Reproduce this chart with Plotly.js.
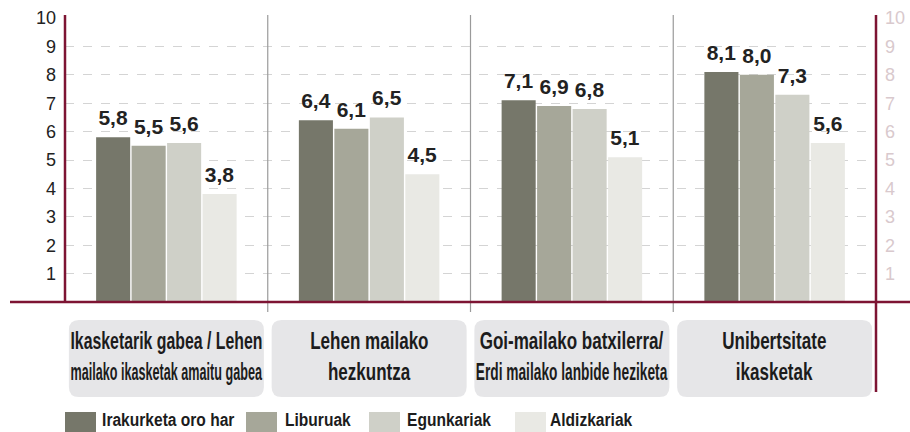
<!DOCTYPE html>
<html>
<head>
<meta charset="utf-8">
<script src="https://cdn.plot.ly/plotly-3.0.1.min.js"></script>
<style>html,body{margin:0;padding:0;background:#fff;}#chart{width:910px;height:432px;}</style>
</head>
<body>
<div id="chart"></div>
<script>
var categories = [
  "Ikasketarik gabea / Lehen<br>mailako ikasketak amaitu gabea",
  "Lehen mailako<br>hezkuntza",
  "Goi-mailako batxilerra/<br>Erdi mailako lanbide heziketa",
  "Unibertsitate<br>ikasketak"
];
var seriesNames = ["Irakurketa oro har", "Liburuak", "Egunkariak", "Aldizkariak"];
var irakurketa = [5.8, 6.4, 7.1, 8.1];
var liburuak = [5.5, 6.1, 6.9, 8.0];
var egunkariak = [5.6, 6.5, 6.8, 7.3];
var aldizkariak = [3.8, 4.5, 5.1, 5.6];
var tickValues = [1, 2, 3, 4, 5, 6, 7, 8, 9, 10];
var tickLabels = ["1", "2", "3", "4", "5", "6", "7", "8", "9", "10"];

var seriesValues = [irakurketa, liburuak, egunkariak, aldizkariak];
var colors = ["#76776a", "#a6a799", "#cfd0c8", "#e9e9e4"];
var FONT = "'Liberation Sans', Arial, sans-serif";
var AXIS = "#7d1433";

function fmt(v) { return v.toFixed(1).replace('.', ','); }

var traces = seriesValues.map(function (vals, i) {
  return {
    type: 'bar',
    name: seriesNames[i],
    x: categories,
    y: vals,
    marker: { color: colors[i] },
    text: vals.map(fmt),
    textposition: 'outside',
    cliponaxis: false,
    textfont: { family: FONT, size: 21, color: '#222', weight: 'bold' },
    hoverinfo: 'x+y',
    showlegend: false
  };
});
// invisible trace for the right axis
traces.push({ type: 'scatter', x: [categories[0]], y: [0], yaxis: 'y2', mode: 'markers', marker: { opacity: 0 }, showlegend: false, hoverinfo: 'skip' });

// plot area geometry (pixels) for converting shape/annotation positions
var L = 65, R = 876, T = 18, B = 302, W = 910, H = 432;
var pw = R - L, ph = B - T;
function px(x) { return (x - L) / pw; }
function py(y) { return (B - y) / ph; }

var shapes = [];
var annotations = [];
var squeeze = []; // per-annotation horizontal compression info

// category label boxes (rounded)
categories.forEach(function (c, i) {
  var hw = 97.5, hh = 38.5, r = 10;
  var path = 'M ' + (-hw + r) + ' ' + (-hh) +
    ' L ' + (hw - r) + ' ' + (-hh) + ' Q ' + hw + ' ' + (-hh) + ' ' + hw + ' ' + (-hh + r) +
    ' L ' + hw + ' ' + (hh - r) + ' Q ' + hw + ' ' + hh + ' ' + (hw - r) + ' ' + hh +
    ' L ' + (-hw + r) + ' ' + hh + ' Q ' + (-hw) + ' ' + hh + ' ' + (-hw) + ' ' + (hh - r) +
    ' L ' + (-hw) + ' ' + (-hh + r) + ' Q ' + (-hw) + ' ' + (-hh) + ' ' + (-hw + r) + ' ' + (-hh) + ' Z';
  shapes.push({
    type: 'path', xref: 'x', yref: 'paper', xsizemode: 'pixel', ysizemode: 'pixel',
    xanchor: i, yanchor: py(358.5), path: path,
    fillcolor: '#e6e6e8', line: { width: 0 }, layer: 'below'
  });
  var lines = c.split('<br>');
  var lineY = [340, 372];
  lines.forEach(function (ln, k) {
    squeeze[annotations.length] = { max: 0.71, target: 192, anchor: 'center' };
    annotations.push({
      xref: 'x', yref: 'paper', x: i, y: py(lineY[k]), xanchor: 'center', yanchor: 'middle', text: ln, showarrow: false,
      font: { family: FONT, size: 24, color: '#1c1c1c', weight: 'bold' }, align: 'center'
    });
  });
});

// category separators
[0.5, 1.5, 2.5].forEach(function (xv) {
  shapes.push({ type: 'line', xref: 'x', yref: 'paper', x0: xv, x1: xv, y0: py(15), y1: py(312),
    line: { color: '#9a9a9a', width: 1.2 } });
});

// axis lines
shapes.push({ type: 'line', xref: 'paper', yref: 'paper', x0: px(65), x1: px(65), y0: py(15), y1: py(302),
  line: { color: AXIS, width: 2.5 } });
shapes.push({ type: 'line', xref: 'paper', yref: 'paper', x0: px(876), x1: px(876), y0: py(15), y1: py(392),
  line: { color: AXIS, width: 2.5 } });
shapes.push({ type: 'line', xref: 'paper', yref: 'paper', x0: px(10), x1: px(910), y0: py(302), y1: py(302),
  line: { color: AXIS, width: 2.5 } });

// custom legend
var swX = [65, 246, 369, 515];
var txX = [100, 283, 405, 548];
seriesNames.forEach(function (n, i) {
  shapes.push({ type: 'rect', xref: 'paper', yref: 'paper', x0: px(swX[i]), x1: px(swX[i] + 31),
    y0: py(412), y1: py(433), fillcolor: colors[i], line: { width: 0 } });
  squeeze[annotations.length] = { max: 0.82, target: 1000, anchor: 'left' };
  annotations.push({ xref: 'paper', yref: 'paper', x: px(txX[i]), y: py(419), xanchor: 'left', yanchor: 'middle',
    text: n, showarrow: false, font: { family: FONT, size: 19, color: '#1c1c1c', weight: 'bold' } });
});

var layout = {
  width: W, height: H,
  margin: { l: L, r: W - R, t: T, b: H - B, pad: 0 },
  paper_bgcolor: '#fff', plot_bgcolor: '#fff',
  barmode: 'group', bargap: 0.3, bargroupgap: 0.04,
  font: { family: FONT },
  xaxis: { type: 'category', range: [-0.5, 3.5], autorange: false, showticklabels: false, showgrid: false, zeroline: false, showline: false, ticks: '' },
  yaxis: {
    range: [0, 10], tickvals: tickValues, ticktext: tickLabels,
    showgrid: true, gridcolor: '#d4d4d4', griddash: 'dash', gridwidth: 1,
    zeroline: false, showline: false, ticks: '', ticklabelstandoff: 8,
    tickfont: { family: FONT, size: 18, color: '#222' }
  },
  yaxis2: {
    overlaying: 'y', side: 'right', range: [0, 10], tickvals: tickValues, ticktext: tickLabels,
    showgrid: false, zeroline: false, showline: false, ticks: '', ticklabelstandoff: 8,
    tickfont: { family: FONT, size: 18, color: '#d9c9cd' }
  },
  shapes: shapes,
  annotations: annotations
};

var gd = document.getElementById('chart');
Plotly.newPlot(gd, traces, layout, { displayModeBar: false, staticPlot: true }).then(function () {
  // condensed lettering, like the original narrow typeface
  gd.querySelectorAll('g.annotation').forEach(function (g) {
    var idx = +g.getAttribute('data-index');
    var info = squeeze[idx];
    if (!info) return;
    var t = g.querySelector('text');
    if (!t) return;
    var bb = t.getBBox();
    var s = Math.min(info.max, info.target / bb.width);
    var ox = info.anchor === 'left' ? bb.x : bb.x + bb.width / 2;
    t.setAttribute('transform', 'translate(' + ox + ',0) scale(' + s + ',1) translate(' + (-ox) + ',0)');
  });
  // a little more room between bar tops and their value labels
  gd.querySelectorAll('g.barlayer g.point text').forEach(function (t) {
    t.setAttribute('transform', 'translate(0,-5) ' + (t.getAttribute('transform') || ''));
  });
});
</script>
</body>
</html>
